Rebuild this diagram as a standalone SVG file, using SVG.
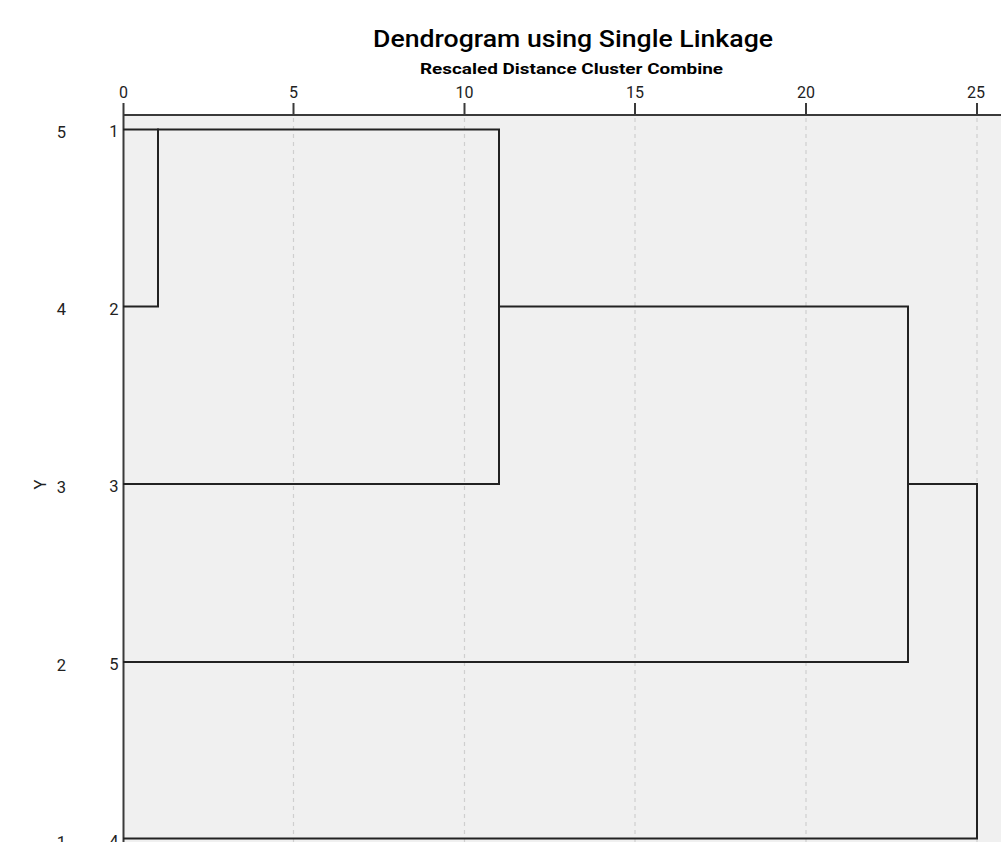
<svg xmlns="http://www.w3.org/2000/svg" width="1001" height="842" viewBox="0 0 1001 842">
  <style>
    .title { font-family: Roboto, "Liberation Sans", sans-serif; font-size: 23px; font-weight: 500; fill: #000; }
    .sub { font-family: Roboto, "Liberation Sans", sans-serif; font-size: 14.5px; font-weight: bold; fill: #000; }
    .tick { font-family: Roboto, "Liberation Sans", sans-serif; font-size: 16px; fill: #222; text-anchor: middle; }
    .lab { font-family: Roboto, "Liberation Sans", sans-serif; font-size: 16.5px; fill: #222; }
    .axis { stroke: #3a3a3a; stroke-width: 2; fill: none; }
    .grid { stroke: #cfcfcf; stroke-width: 1.2; stroke-dasharray: 4 4; fill: none; }
    .link { stroke: #222; stroke-width: 2; fill: none; stroke-linecap: square; }
  </style>

  <rect x="0" y="0" width="1001" height="842" fill="#fff"/>
  <!-- plot area -->
  <rect x="123" y="115" width="878" height="727" fill="#f0f0f0"/>

  <!-- titles -->
  <text class="title" x="373" y="47" textLength="400" lengthAdjust="spacingAndGlyphs">Dendrogram using Single Linkage</text>
  <text class="sub" x="420" y="73.5" textLength="303" lengthAdjust="spacingAndGlyphs">Rescaled Distance Cluster Combine</text>

  <!-- distance axis -->
  <g id="axis">
    <g class="grid">
      <line x1="293.5" y1="118" x2="293.5" y2="842"/>
      <line x1="464.5" y1="118" x2="464.5" y2="842"/>
      <line x1="635" y1="118" x2="635" y2="842"/>
      <line x1="806" y1="118" x2="806" y2="842"/>
      <line x1="977" y1="118" x2="977" y2="842"/>
    </g>
    <line class="axis" x1="123" y1="115" x2="1001" y2="115"/>
    <line class="axis" x1="123.5" y1="103" x2="123.5" y2="842"/>
    <g class="axis">
      <line x1="293.5" y1="103" x2="293.5" y2="115"/>
      <line x1="464.5" y1="103" x2="464.5" y2="115"/>
      <line x1="635" y1="103" x2="635" y2="115"/>
      <line x1="806" y1="103" x2="806" y2="115"/>
      <line x1="977" y1="103" x2="977" y2="115"/>
    </g>
    <text class="tick" x="123.5" y="97.5">0</text>
    <text class="tick" x="293.5" y="97.5">5</text>
    <text class="tick" x="464.5" y="97.5">10</text>
    <text class="tick" x="635" y="97.5">15</text>
    <text class="tick" x="806" y="97.5">20</text>
    <text class="tick" x="976" y="97.5">25</text>
  </g>

  <!-- case label axis -->
  <text class="lab" transform="translate(46 484.5) rotate(-90)" text-anchor="middle">Y</text>

  <!-- leaves -->
  <g id="leaf-1">
    <text class="lab" x="61.5" y="137.5" text-anchor="middle">5</text>
    <text class="lab" x="118.5" y="136.5" text-anchor="end">1</text>
  </g>
  <g id="leaf-2">
    <text class="lab" x="61.5" y="315" text-anchor="middle">4</text>
    <text class="lab" x="118.5" y="314.5" text-anchor="end">2</text>
  </g>
  <g id="leaf-3">
    <text class="lab" x="61.5" y="493" text-anchor="middle">3</text>
    <text class="lab" x="118.5" y="492" text-anchor="end">3</text>
  </g>
  <g id="leaf-5">
    <text class="lab" x="61.5" y="670.5" text-anchor="middle">2</text>
    <text class="lab" x="118.5" y="669.5" text-anchor="end">5</text>
  </g>
  <g id="leaf-4">
    <text class="lab" x="61.5" y="848" text-anchor="middle">1</text>
    <text class="lab" x="118.5" y="847" text-anchor="end">4</text>
  </g>

  <!-- dendrogram links -->
  <g id="links" class="link">
    <path d="M124 129.5 H499 V484 H124"/>
    <path d="M124 306.5 H158 V129.5"/>
    <path d="M499 306.5 H908 V662 H124"/>
    <path d="M908 484 H977 V838.5 H124"/>
  </g>
</svg>
